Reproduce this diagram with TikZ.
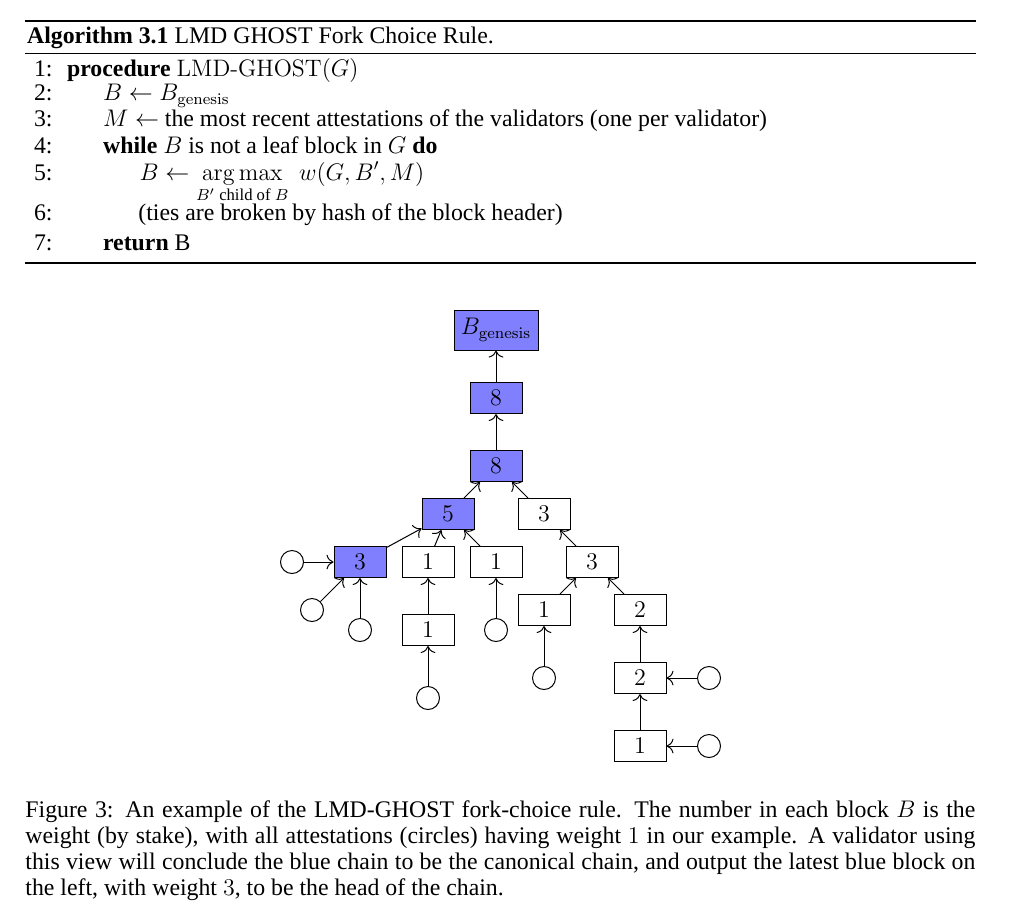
\documentclass[tikz,border=0pt]{standalone}
\usepackage{amsmath}
\usepackage[no-math]{fontspec}
\setmainfont{Liberation Serif}
\usepackage{tikz}
\usetikzlibrary{arrows.meta}

\tikzset{
block/.style={draw, line width=0.5pt, minimum width=26pt, minimum height=15.5pt, inner sep=1pt, font=\fontsize{12}{14}\selectfont},
chosen/.style={block, fill=blue!50},
vote/.style={circle, draw, line width=0.5pt, minimum size=11.5pt, inner sep=0pt},
link/.style={-{To[scale=1.3]}, line width=0.5pt},
txt/.style={inner sep=0pt, anchor=base west, font=\fontsize{11.9}{13}\selectfont},
lno/.style={inner sep=0pt, anchor=base east, font=\fontsize{11.9}{13}\selectfont}
}

\begin{document}
\begin{tikzpicture}[x=0.5pt, y=-0.5pt]
\useasboundingbox (0,0) rectangle (1015,923);
\draw[line width=0.85pt] (25,20.7) -- (976,20.7);
\draw[line width=0.5pt] (25,53) -- (976,53);
\draw[line width=0.85pt] (25,263.3) -- (976,263.3);
\node[txt] (title) at (26.7,43.3) {\textbf{Algorithm 3.1} LMD GHOST Fork Choice Rule.};
\node[lno] (n1) at (53,76) {1:};
\node[lno] (n2) at (53,100.7) {2:};
\node[lno] (n3) at (53,126.7) {3:};
\node[lno] (n4) at (53,153.3) {4:};
\node[lno] (n5) at (53,180) {5:};
\node[lno] (n6) at (53,220.7) {6:};
\node[lno] (n7) at (53,250.7) {7:};
\node[txt] (l1) at (66.7,76) {\textbf{procedure} {\fontfamily{lmr}\selectfont LMD-GHOST}$(G)$};
\node[txt] (l2) at (102.7,100.7) {$B \leftarrow B_{\mathrm{genesis}}$};
\node[txt] (l3) at (102.7,126.7) {$M \leftarrow$ the most recent attestations of the validators (one per validator)};
\node[txt] (l4) at (102.7,153.3) {\textbf{while} $B$ is not a leaf block in $G$ \textbf{do}};
\node[txt] (l5) at (139.3,180) {$B \leftarrow \displaystyle\operatorname*{arg\,max}_{B'\text{ child of }B}\; w(G,B',M)$};
\node[txt] (l6) at (138,220.7) {(ties are broken by hash of the block header)};
\node[txt] (l7) at (102.7,250.7) {\textbf{return} B};

\node[chosen, minimum width=42pt, minimum height=20pt] (gen) at (496,330) {$B_{\mathrm{genesis}}$};
\node[chosen] (w8a) at (496,398) {$8$};
\node[chosen] (w8b) at (496,466) {$8$};
\node[chosen] (w5) at (448,514) {$5$};
\node[block] (w3r) at (544,514) {$3$};
\node[chosen] (head) at (360,562) {$3$};
\node[block] (w1a) at (428,562) {$1$};
\node[block] (w1b) at (496,562) {$1$};
\node[block] (w3s) at (592,562) {$3$};
\node[block] (w1c) at (544,610) {$1$};
\node[block] (w2a) at (640,610) {$2$};
\node[block] (w1d) at (428,630) {$1$};
\node[block] (w2b) at (640,678) {$2$};
\node[block] (w1e) at (640,746) {$1$};
\node[vote] (at1) at (292,562) {};
\node[vote] (at2) at (312,610) {};
\node[vote] (at3) at (360,630) {};
\node[vote] (at4) at (428,698) {};
\node[vote] (at5) at (496,630) {};
\node[vote] (at6) at (544,678) {};
\node[vote] (at7) at (709,678) {};
\node[vote] (at8) at (709,746) {};
\draw[link] (w8a) -- (gen);
\draw[link] (w8b) -- (w8a);
\draw[link] (w5) -- (w8b);
\draw[link] (w3r) -- (w8b);
\draw[link] (head) -- (w5);
\draw[link] (w1a) -- (w5);
\draw[link] (w1b) -- (w5);
\draw[link] (w3s) -- (w3r);
\draw[link] (w1c) -- (w3s);
\draw[link] (w2a) -- (w3s);
\draw[link] (w1d) -- (w1a);
\draw[link] (w2b) -- (w2a);
\draw[link] (w1e) -- (w2b);
\draw[link] (at1) -- (head);
\draw[link] (at2) -- (head);
\draw[link] (at3) -- (head);
\draw[link] (at4) -- (w1d);
\draw[link] (at5) -- (w1b);
\draw[link] (at6) -- (w1c);
\draw[link] (at7) -- (w2b);
\draw[link] (at8) -- (w1e);

\node[txt, text width=475pt, align=justify] (cap) at (25,817) {Figure 3:\hspace{0.5em}An example of the LMD-GHOST fork-choice rule. The number in each block $B$ is the\linebreak weight (by stake), with all attestations (circles) having weight $1$ in our example. A validator using\linebreak this view will conclude the blue chain to be the canonical chain, and output the latest blue block on\linebreak the left, with weight $3$, to be the head of the chain.};
\end{tikzpicture}
\end{document}
